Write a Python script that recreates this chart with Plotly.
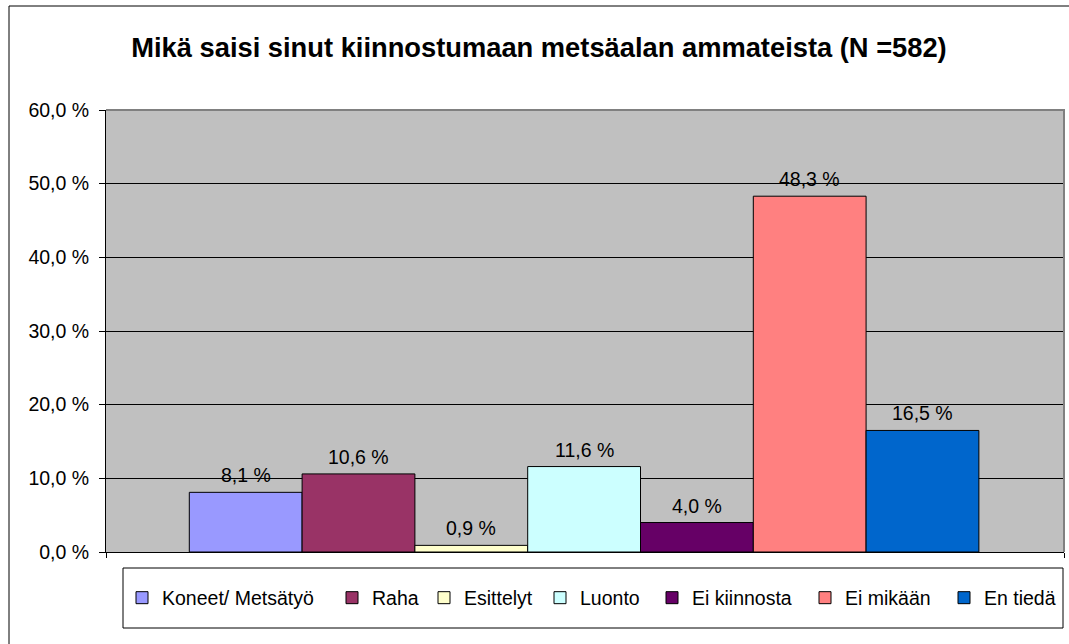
import plotly.graph_objects as go

# Survey answers: what would make you interested in forestry careers
categories = ["Koneet/ Metsätyö", "Raha", "Esittelyt", "Luonto",
              "Ei kiinnosta", "Ei mikään", "En tiedä"]
shares = [8.1, 10.6, 0.9, 11.6, 4.0, 48.3, 16.5]
colors = ["#9999FF", "#993366", "#FFFFCC", "#CCFFFF",
          "#660066", "#FF8080", "#0066CC"]
y_ticks = [0, 10, 20, 30, 40, 50, 60]
y_tick_text = [f"{v:.1f} %".replace(".", ",") for v in y_ticks]

FONT = "Arial, Liberation Sans, sans-serif"
FS = 19.5

L, R, T, B = 106, 1064, 110, 552
W, H = 1069, 644
pw, ph = R - L, B - T

# left edge of each legend swatch, in pixels
legend_left = [140, 350, 442, 558, 670, 823, 962]

# x range: one unit per bar, with empty space on both sides of the group
X_RANGE = [-1.2385, 7.2545]

fig = go.Figure()
for i, (name, val, col) in enumerate(zip(categories, shares, colors)):
    fig.add_trace(go.Bar(
        x=[i], y=[val], name=name, width=1,
        marker=dict(color=col, line=dict(color="#000000", width=1)),
        legend="legend" if i == 0 else f"legend{i + 1}",
    ))
    fig.add_annotation(
        x=i, y=val, xref="x", yref="y",
        text=f"{val:.1f} %".replace(".", ","),
        showarrow=False, yanchor="bottom", yshift=4,
        font=dict(family=FONT, size=FS, color="#000000"),
    )

legends = {}
for i, px in enumerate(legend_left):
    key = "legend" if i == 0 else f"legend{i + 1}"
    legends[key] = dict(
        orientation="h", x=(px - 18 - L) / pw, xanchor="left",
        y=-(598 - B) / ph, yanchor="middle",
        bgcolor="rgba(0,0,0,0)", borderwidth=0,
        font=dict(family=FONT, size=FS, color="#000000"),
        itemwidth=30,
    )

fig.update_layout(
    width=W, height=H,
    margin=dict(l=L, r=W - R, t=T, b=H - B),
    paper_bgcolor="#FFFFFF",
    plot_bgcolor="#C0C0C0",
    barmode="overlay",
    font=dict(family=FONT, size=FS, color="#000000"),
    title=dict(
        text="<b>Mikä saisi sinut kiinnostumaan metsäalan ammateista (N =582)</b>",
        x=539 / W, xanchor="center", y=1 - 47 / H, yanchor="middle",
        font=dict(family=FONT, size=27.3, color="#000000"),
    ),
    xaxis=dict(
        range=X_RANGE, tickvals=X_RANGE,
        showticklabels=False,
        ticks="outside", ticklen=5, tickcolor="#000000",
        showgrid=False, zeroline=False,
        showline=True, linecolor="#000000", linewidth=1,
    ),
    yaxis=dict(
        range=[0, 60], tickvals=y_ticks, ticktext=y_tick_text,
        ticks="outside", ticklen=6, tickcolor="#000000",
        ticklabelstandoff=6,
        showgrid=True, gridcolor="#000000", gridwidth=1,
        zeroline=False,
        showline=True, linecolor="#000000", linewidth=1,
        tickfont=dict(family=FONT, size=FS, color="#000000"),
    ),
    showlegend=True,
    shapes=[
        # grey frame along the top and right of the plot area
        dict(type="path", xref="paper", yref="paper",
             path="M 0,1 L 1,1 L 1,0", line=dict(color="#808080", width=2)),
        # legend frame
        dict(type="rect", xref="paper", yref="paper",
             x0=(123 - L) / pw, x1=(1063 - L) / pw,
             y0=-(628 - B) / ph, y1=-(568 - B) / ph,
             line=dict(color="#000000", width=1), fillcolor="#FFFFFF",
             layer="below"),
        # outer chart border
        dict(type="rect", xref="paper", yref="paper",
             x0=(9 - L) / pw, x1=1.2, y0=-0.5, y1=(B - 6) / ph,
             line=dict(color="#000000", width=1), fillcolor="rgba(0,0,0,0)"),
    ],
    **legends,
)

fig.write_html("out.html")
